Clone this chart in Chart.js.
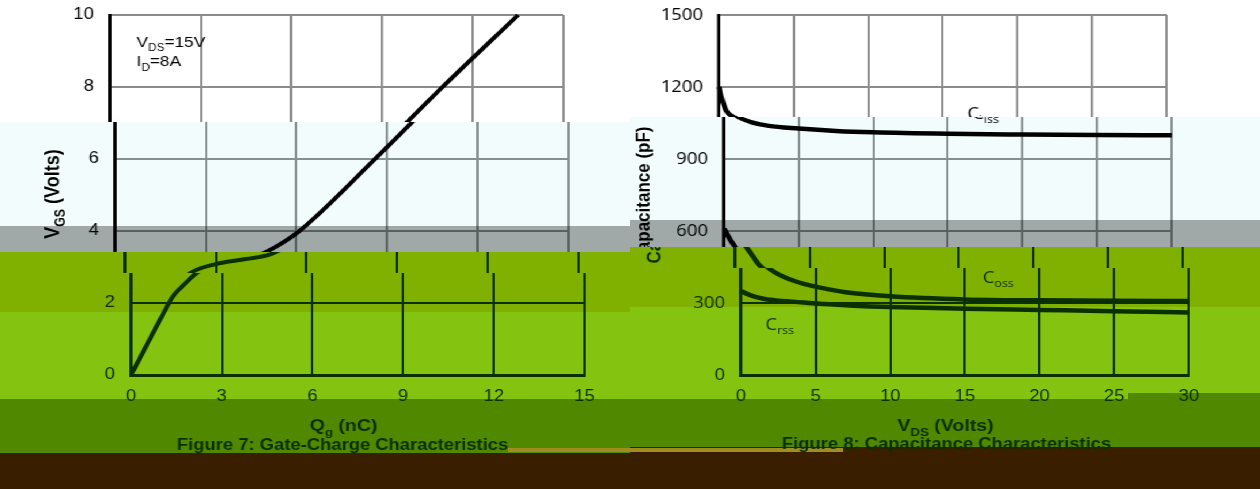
<!DOCTYPE html>
<html>
<head>
<meta charset="utf-8">
<script src="https://cdn.jsdelivr.net/npm/chart.js@4.4.1/dist/chart.umd.min.js"></script>
<style>
  html, body { margin: 0; padding: 0; width: 1260px; height: 489px; overflow: hidden; background: #fff; }
  .band, .slice { position: absolute; }
  .slice { overflow: hidden; }
  .slice .inner { position: absolute; transform-origin: 0 0; transform: scaleX(1.15); }
  canvas { display: block; }
</style>
</head>
<body>
<div id="page"></div>
<script>
/* ---- Figure 7: gate charge ---- */
const qgTicks = [0, 3, 6, 9, 12, 15];
const vgsTicks = [0, 2, 4, 6, 8, 10];
const qg  = [0, 0.5, 1.0, 1.4, 1.8, 2.2, 3.0, 4.0, 4.8, 5.4, 6.1, 8.6, 11.0, 13.5];
const vgs = [0, 0.8, 1.6, 2.2, 2.55, 2.85, 3.08, 3.22, 3.35, 3.6, 4.0, 6.0, 8.0, 10.0];

/* ---- Figure 8: capacitance ---- */
const vdsTicks = [0, 5, 10, 15, 20, 25, 30];
const capTicks = [0, 300, 600, 900, 1200, 1500];
const cissV = [0, 0.1, 0.25, 0.5, 1, 1.8, 3, 5, 7.5, 10, 15, 20, 25, 30];
const cissC = [1200, 1170, 1140, 1100, 1074, 1054, 1038, 1027, 1017, 1011, 1005, 1002, 1000, 999];
const cossV = [0, 0.4, 0.85, 1.25, 1.6, 2.2, 3.2, 4.2, 5.3, 7, 10, 15, 20, 25, 30];
const cossC = [610, 565, 525, 490, 460, 430, 400, 380, 364, 345, 328, 315, 311, 309, 308];
const crssV = [0, 0.4, 0.85, 1.5, 2.2, 3.1, 4.2, 5.3, 7.5, 10, 15, 20, 25, 30];
const crssC = [350, 338, 328, 318, 312, 307, 302, 297, 289, 283, 276, 271, 266, 260];

const K = 1.15; // the picture is stretched sideways
const DARK = "#0b3000";

// background bands of the picture
const bands = [
  [0, 0, 630, 122, "#ffffff"], [0, 122, 630, 104, "#f3fcfc"], [0, 226, 630, 26, "#a0a8a8"],
  [0, 252, 630, 60, "#80b000"], [0, 312, 630, 87, "#84c410"], [0, 399, 630, 54, "#508800"], [0, 453, 630, 36, "#3a1e00"],
  [630, 0, 630, 117, "#ffffff"], [630, 117, 630, 103, "#f3fcfc"], [630, 220, 630, 27, "#a0a8a8"],
  [630, 247, 630, 60, "#80b000"], [630, 307, 630, 92, "#84c410"], [630, 399, 630, 48, "#508800"], [630, 447, 630, 42, "#3a1e00"],
  [1128, 393, 132, 6, "#508800"], [508, 448, 335, 4, "#a08c20"],
];

const page = document.getElementById("page");
bands.forEach(([x, y, w, h, c]) => {
  const d = document.createElement("div");
  d.className = "band";
  Object.assign(d.style, { left: x + "px", top: y + "px", width: w + "px", height: h + "px", background: c });
  page.appendChild(d);
});

const light = (grid) => ({ ink: "#000", grid, blend: true });
const dark = { ink: DARK, grid: DARK, blend: false };

const figures = [
  {
    left: 0, w: 610, yWidth: 110 / K, padR: 610 / K - 564 / K,
    x: { min: 0, max: 15, ticks: qgTicks }, y: { min: 0, max: 10, ticks: vgsTicks },
    yFont: "Liberation Sans", lineW: 4,
    series: [[qg, vgs]],
    slices: [
      { top: 0, h: 122, dx: 0, ...light("#8c8c8c") },
      { top: 122, h: 130, dx: 4.5, ...light("#8c9292") },
      { top: 252, h: 21, dx: 15, ...dark },
      { top: 273, h: 216, dx: 20.5, ...dark },
    ],
    notes: [
      { parts: [["V"], ["DS", 1], ["=15V"]], at: [0.88, 9.26], size: 15, fam: "Liberation Sans" },
      { parts: [["I"], ["D", 1], ["=8A"]], at: [0.88, 8.72], size: 15, fam: "Liberation Sans" },
      { parts: [["V"], ["GS", 1], [" (Volts)"]], px: [40.4, 194], size: 18, bold: 1, rot: 1, fam: "Liberation Sans" },
      { parts: [["Q"], ["g", 1], [" (nC)"]], px: [280.4, 431], size: 17, bold: 1, center: 1, base: 1, fam: "Liberation Sans" },
      { parts: [["Figure 7: Gate-Charge Characteristics"]], px: [279.6, 450], size: 16, bold: 1, center: 1, base: 1, fam: "Liberation Sans" },
    ],
  },
  {
    left: 610, w: 650, yWidth: (719 - 610) / K, padR: 650 / K - (1167 - 610) / K,
    x: { min: 0, max: 30, ticks: vdsTicks }, y: { min: 0, max: 1500, ticks: capTicks },
    yFont: "Open Sans", lineW: 4.5,
    series: [[cissV, cissC], [cossV, cossC], [crssV, crssC]],
    slices: [
      { top: 0, h: 117, dx: 0, ...light("#8c8c8c") },
      { top: 117, h: 130, dx: 5, ...light("#8c9292") },
      { top: 247, h: 21, dx: 16, ...dark },
      { top: 268, h: 221, dx: 21.5, ...dark },
    ],
    notes: [
      { parts: [["C"], ["iss", 1]], at: [16.64, 1092], size: 16, fam: "Open Sans" },
      { parts: [["C"], ["oss", 1]], at: [16.2, 408], size: 16, fam: "Open Sans" },
      { parts: [["C"], ["rss", 1]], at: [1.64, 212], size: 16, fam: "Open Sans" },
      { parts: [["Capacitance (pF)"]], px: [23.9, 195], size: 17, bold: 1, rot: 1, fam: "Liberation Sans" },
      { parts: [["V"], ["DS", 1], [" (Volts)"]], px: [272.6, 431], size: 17, bold: 1, center: 1, base: 1, fam: "Liberation Sans" },
      { parts: [["Figure 8: Capacitance Characteristics"]], px: [273.5, 449], size: 16, bold: 1, center: 1, base: 1, fam: "Liberation Sans" },
    ],
  },
];

// text with subscripts, drawn on the chart canvas
function rich(ctx, n, x, y, color) {
  const font = (s) => `${n.bold ? "bold " : ""}${s}px "${n.fam}"`;
  const subS = n.size * 0.68;
  const w = n.parts.reduce((a, [t, sub]) => { ctx.font = font(sub ? subS : n.size); return a + ctx.measureText(t).width; }, 0);
  ctx.save();
  ctx.fillStyle = color;
  ctx.textBaseline = "alphabetic";
  ctx.textAlign = "left";
  ctx.translate(x, y);
  let cx = 0, by = 0;
  if (n.rot) { ctx.rotate(-Math.PI / 2); cx = -w / 2; by = n.size * 0.36; }
  else if (n.center) cx = -w / 2;
  if (!n.rot && !n.base) by = n.size * 0.36;
  n.parts.forEach(([t, sub]) => {
    ctx.font = font(sub ? subS : n.size);
    ctx.fillText(t, cx, by + (sub ? n.size * 0.28 : 0));
    cx += ctx.measureText(t).width;
  });
  ctx.restore();
}

// notes kept in a closure (not in chart options, whose resolver rewrites them)
const notesPlugin = (items, color) => ({
  id: "notes",
  afterDraw(chart) {
    const { ctx, scales } = chart;
    items.forEach((n) => {
      const x = n.at ? scales.x.getPixelForValue(n.at[0]) : n.px[0];
      const y = n.at ? scales.y.getPixelForValue(n.at[1]) : n.px[1];
      rich(ctx, n, x, y, color);
    });
  },
});

function makeChart(cv, f, th) {
  const axis = (a, font, pad, fit) => ({
    type: "linear", min: a.min, max: a.max,
    afterBuildTicks: (sc) => { sc.ticks = a.ticks.map((v) => ({ value: v })); },
    afterFit: (sc) => { fit(sc); sc.paddingTop = sc.paddingBottom = sc.paddingLeft = sc.paddingRight = 0; },
    grid: { color: th.grid, lineWidth: 2, drawTicks: false },
    border: { color: th.ink, width: 3 },
    ticks: { color: th.ink, font: { family: font, size: 16 }, padding: pad, callback: (v) => String(v) },
  });
  return new Chart(cv, {
    type: "line",
    data: {
      datasets: f.series.map(([xs, ys]) => ({
        data: xs.map((v, i) => ({ x: v, y: ys[i] })),
        borderColor: th.ink, borderWidth: f.lineW, pointRadius: 0, fill: false, clip: 4,
        tension: 0.4, cubicInterpolationMode: "monotone",
      })),
    },
    options: {
      responsive: false, animation: false, events: [],
      layout: { padding: { left: 0, right: f.padR, top: 15, bottom: 0 } },
      plugins: { legend: { display: false }, tooltip: { enabled: false } },
      scales: {
        x: axis(f.x, "Liberation Sans", 12, (sc) => { sc.height = 489 - 375; }),
        y: axis(f.y, f.yFont, 14, (sc) => { sc.width = f.yWidth; }),
      },
    },
    plugins: [notesPlugin(f.notes, th.ink)],
  });
}

figures.forEach((f) => {
  f.slices.forEach((s) => {
    const box = document.createElement("div");
    box.className = "slice";
    Object.assign(box.style, { left: f.left + "px", top: s.top + "px", width: f.w + "px", height: s.h + "px", mixBlendMode: s.blend ? "multiply" : "normal" });
    const inner = document.createElement("div");
    inner.className = "inner";
    inner.style.left = s.dx + "px";
    inner.style.top = -s.top + "px";
    const cv = document.createElement("canvas");
    cv.width = Math.round(f.w / K); cv.height = 489;
    cv.style.width = cv.width + "px"; cv.style.height = "489px";
    inner.appendChild(cv); box.appendChild(inner); page.appendChild(box);
    makeChart(cv, f, s);
  });
});
</script>
</body>
</html>
